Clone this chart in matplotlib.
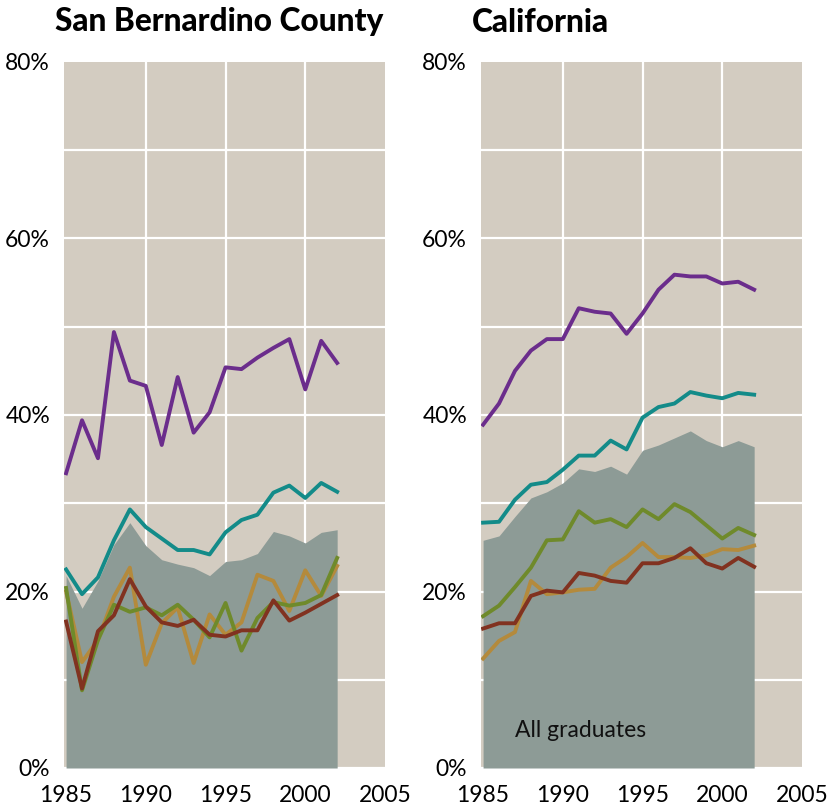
import matplotlib
matplotlib.use("Agg")
import matplotlib.pyplot as plt
import numpy as np

years = list(range(1985, 2003))

# San Bernardino County
sb_all    = [21.8, 18.1, 21.2, 25.3, 27.8, 25.2, 23.6, 23.1, 22.7, 21.8, 23.4, 23.6, 24.3, 26.8, 26.3, 25.5, 26.7, 27.0]
sb_purple = [33.4, 39.4, 35.1, 49.4, 43.9, 43.3, 36.6, 44.3, 38.0, 40.3, 45.4, 45.2, 46.5, 47.6, 48.6, 42.9, 48.4, 45.9]
sb_teal   = [22.5, 19.7, 21.6, 25.8, 29.3, 27.3, 26.0, 24.7, 24.7, 24.2, 26.7, 28.1, 28.7, 31.2, 32.0, 30.6, 32.3, 31.3]
sb_gold   = [20.0, 12.0, 14.5, 19.4, 22.7, 11.7, 16.4, 18.2, 11.9, 17.4, 15.1, 16.5, 21.9, 21.2, 17.8, 22.4, 19.5, 22.9]
sb_olive  = [20.4,  8.8, 14.5, 18.5, 17.7, 18.2, 17.3, 18.5, 16.8, 14.8, 18.7, 13.3, 17.0, 18.8, 18.4, 18.7, 19.6, 23.8]
sb_brown  = [16.6,  9.0, 15.5, 17.3, 21.4, 18.3, 16.5, 16.1, 16.8, 15.1, 14.9, 15.6, 15.6, 19.0, 16.7, 17.6, 18.6, 19.6]

# California
ca_all    = [25.8, 26.3, 28.5, 30.6, 31.3, 32.3, 33.9, 33.6, 34.2, 33.3, 36.0, 36.6, 37.4, 38.2, 37.1, 36.4, 37.1, 36.4]
ca_purple = [38.9, 41.3, 45.0, 47.3, 48.6, 48.6, 52.1, 51.7, 51.5, 49.2, 51.5, 54.2, 55.9, 55.7, 55.7, 54.9, 55.1, 54.2]
ca_teal   = [27.8, 27.9, 30.4, 32.1, 32.4, 33.8, 35.4, 35.4, 37.1, 36.1, 39.7, 40.9, 41.3, 42.6, 42.2, 41.9, 42.5, 42.3]
ca_gold   = [12.4, 14.4, 15.4, 21.2, 19.7, 19.9, 20.2, 20.3, 22.7, 23.9, 25.5, 23.9, 23.9, 23.8, 24.1, 24.8, 24.7, 25.2]
ca_olive  = [17.2, 18.4, 20.5, 22.7, 25.8, 25.9, 29.1, 27.8, 28.2, 27.3, 29.3, 28.2, 29.9, 29.0, 27.5, 26.0, 27.2, 26.4]
ca_brown  = [15.8, 16.4, 16.4, 19.5, 20.1, 19.9, 22.1, 21.8, 21.2, 21.0, 23.2, 23.2, 23.8, 24.9, 23.2, 22.6, 23.8, 22.8]

titles = ["San Bernardino County", "California"]
x_ticks = [1985, 1990, 1995, 2000, 2005]
y_ticks = [0, 20, 40, 60, 80]
y_tick_labels = ["0%", "20%", "40%", "60%", "80%"]

BG = "#D3CCC1"
AREA = "#8D9B96"
C_PURPLE = "#6B2D8C"
C_TEAL = "#138B89"
C_GOLD = "#B48A3C"
C_OLIVE = "#6F8A2B"
C_BROWN = "#813220"

FONT = "Lato"
plt.rcParams['font.family'] = [FONT, 'DejaVu Sans']

fig = plt.figure(figsize=(8.39, 8.08), dpi=100)
W, H = 839, 808
panels = [
    (64, [sb_all, sb_purple, sb_teal, sb_gold, sb_olive, sb_brown]),
    (481, [ca_all, ca_purple, ca_teal, ca_gold, ca_olive, ca_brown]),
]
for idx, (x0, data) in enumerate(panels):
    ax = fig.add_axes([x0 / W, 1 - 768 / H, 321 / W, (768 - 62) / H])
    ax.set_facecolor(BG)
    ax.set_xlim(1984.87, 2005)
    ax.set_ylim(0, 80)
    for s in ax.spines.values():
        s.set_visible(False)
    ax.set_xticks(x_ticks)
    ax.set_xticklabels([str(t) for t in x_ticks])
    ax.set_yticks(y_ticks)
    ax.set_yticklabels(y_tick_labels)
    ax.set_yticks([10, 30, 50, 70], minor=True)
    ax.grid(True, which='both', color='white', linewidth=1.6)
    ax.set_axisbelow(True)
    xg = ax.xaxis.get_gridlines()
    xg[0].set_visible(False)
    xg[-1].set_visible(False)
    yg = ax.yaxis.get_gridlines()
    yg[-1].set_visible(False)
    ax.tick_params(which='both', length=0)
    ax.tick_params(axis='y', pad=10, labelsize=16.5)
    ax.tick_params(axis='x', pad=12, labelsize=16.5)
    all_g, purple, teal, gold, olive, brown = data
    ax.fill_between(years, 0, all_g, color=AREA, linewidth=0, zorder=2)
    lw = 2.8
    ax.plot(years, gold, color=C_GOLD, lw=lw, zorder=3)
    ax.plot(years, olive, color=C_OLIVE, lw=lw, zorder=4)
    ax.plot(years, brown, color=C_BROWN, lw=lw, zorder=5)
    ax.plot(years, teal, color=C_TEAL, lw=lw, zorder=6)
    ax.plot(years, purple, color=C_PURPLE, lw=lw, zorder=7)
    if idx == 1:
        ax.text(1987.0, 4.3, "All graduates", fontsize=16.5, va='center', ha='left',
                color='#111111', zorder=8)

fig.text(55 / W, 1 - 22 / H, titles[0], fontsize=22.8, fontweight='black', va='center', ha='left')
fig.text(472 / W, 1 - 22 / H, titles[1], fontsize=22.8, fontweight='black', va='center', ha='left')

fig.savefig("out.png", dpi=100)
